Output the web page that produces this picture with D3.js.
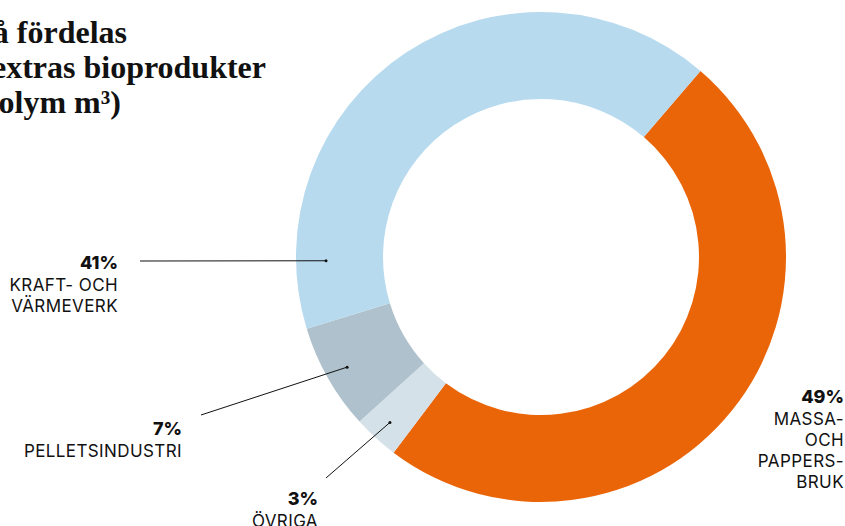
<!DOCTYPE html>
<html>
<head>
<meta charset="utf-8">
<script src="https://cdn.jsdelivr.net/npm/d3@7"></script>
<style>
  body { margin: 0; background: #fff; }
  svg { display: block; }
</style>
</head>
<body>
<div id="chart-area"></div>
<script>
// data
let categories = ["Massa- och pappersbruk", "Övriga", "Pelletsindustri", "Kraft- och värmeverk"];
let values = [49, 3, 7, 41];
let pctLabels = ["49%", "3%", "7%", "41%"];
let nameLines = [["MASSA-", "OCH", "PAPPERS-", "BRUK"], ["ÖVRIGA"], ["PELLETSINDUSTRI"], ["KRAFT- OCH", "VÄRMEVERK"]];
let colors = ["#EA6508", "#D5E1E8", "#AEC1CC", "#B7DAEE"];
let titleLines = ["Så fördelas", "virket som extras bioprodukter", "(volym m³)"];

let width = 845, height = 526;
let cx = 541, cy = 257;
let outerR = 245, innerR = 158;

// label layout (x = right edge, y = baseline of percent)
let labelPos = [
    { x: 844, y: 403, line: null },
    { x: 318, y: 505, line: [326, 478], r: 224 },
    { x: 182, y: 435, line: [201, 415], r: 223 },
    { x: 118, y: 269, line: [140, 261], r: 215, angle: 269 }
];

let svg = d3.select("#chart-area")
    .append("svg")
    .attr("width", width)
    .attr("height", height);

// Title (clipped at the left edge, as in the source)
svg.append("g").selectAll("text")
    .data(titleLines)
    .enter()
    .append("text")
    .attr("x", function(d, i){ return [127, 266, 121][i]; })
    .attr("y", function(d, i){ return 43 + i * 35; })
    .attr("text-anchor", "end")
    .attr("font-family", "'Liberation Serif', serif")
    .attr("font-weight", "bold")
    .attr("font-size", "32px")
    .attr("fill", "#111")
    .text(function(d){ return d; });

let pie = d3.pie()
    .sort(null)
    .value(function(d){ return d; })
    .startAngle(40.6 * Math.PI / 180)
    .endAngle(40.6 * Math.PI / 180 + 2 * Math.PI);

let arcs = pie(values);

let arc = d3.arc()
    .innerRadius(innerR)
    .outerRadius(outerR);

let g = svg.append("g")
    .attr("transform", "translate(" + cx + "," + cy + ")");

g.selectAll("path")
    .data(arcs)
    .enter()
    .append("path")
    .attr("d", arc)
    .attr("fill", function(d, i){ return colors[i]; });

// Leader lines
arcs.forEach(function(d, i) {
    let p = labelPos[i];
    if (!p.line) return;
    let a = p.angle !== undefined ? p.angle * Math.PI / 180 : (d.startAngle + d.endAngle) / 2;
    let ex = cx + p.r * Math.sin(a), ey = cy - p.r * Math.cos(a);
    svg.append("line")
        .attr("x1", p.line[0]).attr("y1", p.line[1])
        .attr("x2", ex).attr("y2", ey)
        .attr("stroke", "#111")
        .attr("stroke-width", 1);
    svg.append("circle")
        .attr("cx", ex).attr("cy", ey)
        .attr("r", 1.5)
        .attr("fill", "#111");
});

// Labels
arcs.forEach(function(d, i) {
    let p = labelPos[i];
    let t = svg.append("text")
        .attr("text-anchor", "end")
        .attr("font-family", "Inter, 'Noto Sans', sans-serif")
        .attr("fill", "#111");
    t.append("tspan")
        .attr("x", p.x).attr("y", p.y)
        .attr("font-weight", "800")
        .attr("font-size", "18px")
        .text(pctLabels[i]);
    nameLines[i].forEach(function(line, j) {
        t.append("tspan")
            .attr("x", p.x)
            .attr("y", p.y + 22 + j * 21)
            .attr("font-size", "17px")
            .attr("letter-spacing", "0.4px")
            .text(line);
    });
});
</script>
</body>
</html>
